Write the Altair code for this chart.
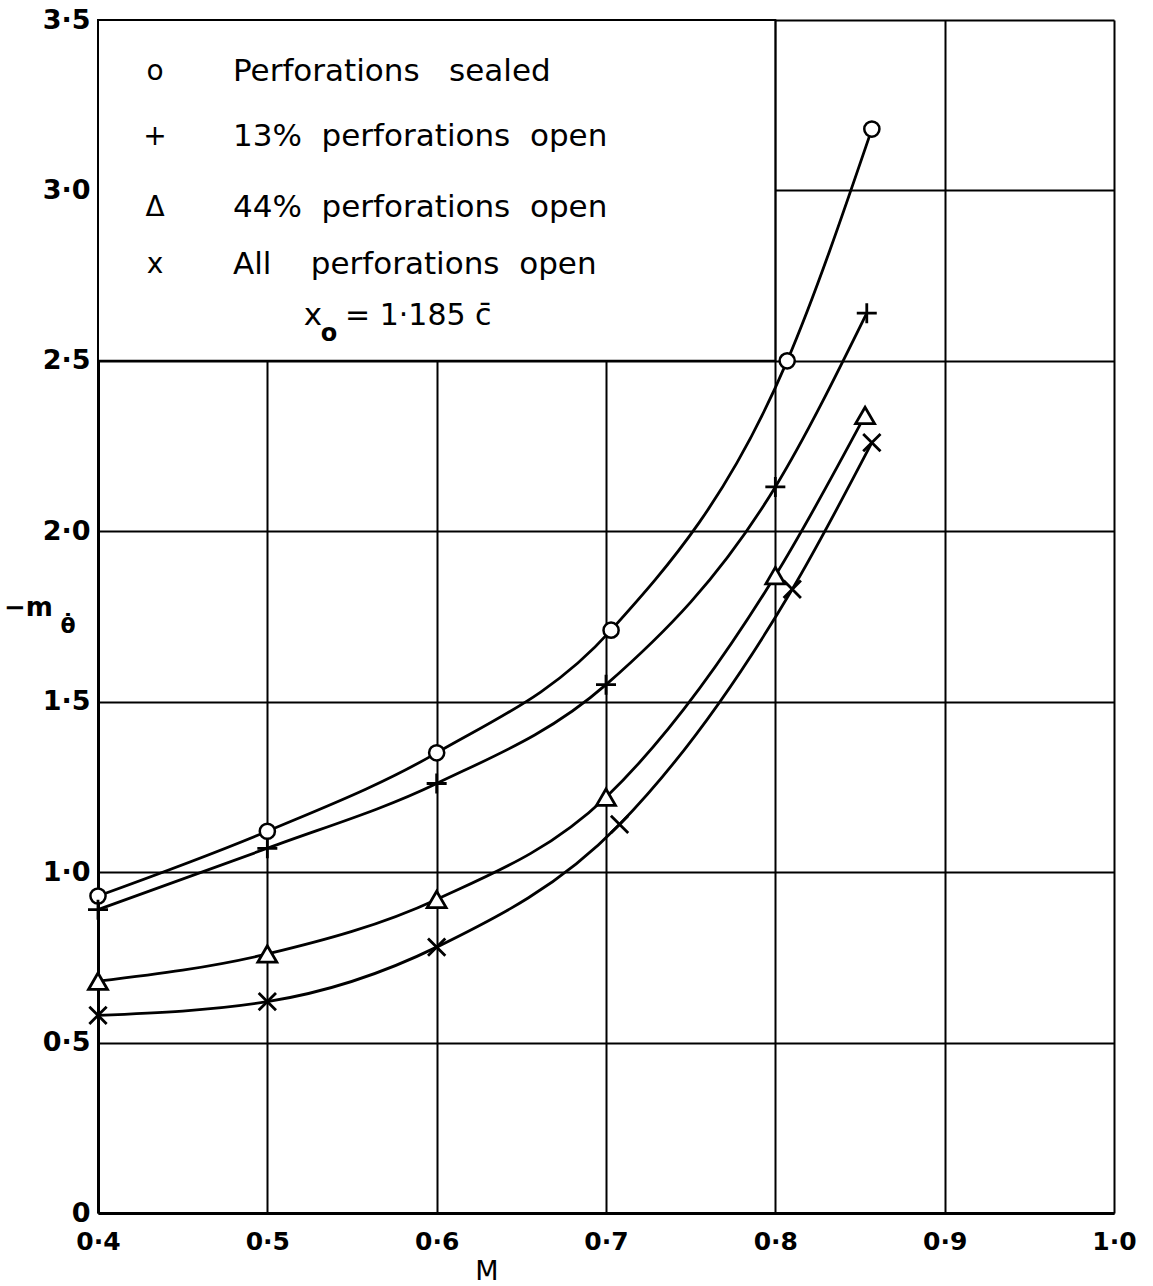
import altair as alt
import pandas as pd

FONT = "DejaVu Sans"

# ---- data ----
series_names = ["Perforations sealed", "13% perforations open",
                "44% perforations open", "All perforations open"]
M_sealed = [0.4, 0.5, 0.6, 0.703, 0.807, 0.857]
v_sealed = [0.93, 1.12, 1.35, 1.71, 2.50, 3.18]
M_13 = [0.4, 0.5, 0.6, 0.7, 0.8, 0.854]
v_13 = [0.89, 1.07, 1.26, 1.55, 2.13, 2.64]
M_44 = [0.4, 0.5, 0.6, 0.7, 0.8, 0.853]
v_44 = [0.68, 0.76, 0.92, 1.22, 1.87, 2.34]
M_all = [0.4, 0.5, 0.6, 0.708, 0.81, 0.857]
v_all = [0.58, 0.62, 0.78, 1.14, 1.83, 2.26]

x_ticks = [0.4, 0.5, 0.6, 0.7, 0.8, 0.9, 1.0]
y_ticks = [0, 0.5, 1.0, 1.5, 2.0, 2.5, 3.0, 3.5]

legend_markers = ["o", "+", "\u0394", "x"]
legend_texts = ["Perforations\u00a0\u00a0\u00a0sealed",
                "13%\u00a0\u00a0perforations\u00a0\u00a0open",
                "44%\u00a0\u00a0perforations\u00a0\u00a0open",
                "All\u00a0\u00a0\u00a0\u00a0perforations\u00a0\u00a0open"]

frames = []
for name, ms, vs in zip(series_names, [M_sealed, M_13, M_44, M_all],
                        [v_sealed, v_13, v_44, v_all]):
    frames.append(pd.DataFrame({"M": ms, "v": vs, "series": name}))
df = pd.concat(frames, ignore_index=True)

xs = alt.Scale(domain=[0.4, 1.0], nice=False, zero=False)
ys = alt.Scale(domain=[0, 3.5], nice=False, zero=False)

x_axis = alt.Axis(values=x_ticks, grid=True, ticks=False, title=None,
                  labelExpr="replace(format(datum.value, '.1f'), '.', '\u00b7')",
                  labelFlush=False, labelOverlap=False, labelPadding=16,
                  labelFont=FONT, labelFontSize=25, labelFontWeight="bold",
                  labelColor="black", domainColor="black", domainWidth=3,
                  gridColor="black", gridWidth=2, gridOpacity=1)
y_axis = alt.Axis(values=y_ticks, grid=True, ticks=False, title=None,
                  labelExpr="datum.value == 0 ? '0' : replace(format(datum.value, '.1f'), '.', '\u00b7')",
                  labelFlush=False, labelOverlap=False, labelPadding=8,
                  labelFont=FONT, labelFontSize=27, labelFontWeight="bold",
                  labelColor="black", domainColor="black", domainWidth=3,
                  gridColor="black", gridWidth=2, gridOpacity=1)

X = alt.X("M:Q", scale=xs, axis=x_axis)
Y = alt.Y("v:Q", scale=ys, axis=y_axis)

base = alt.Chart(df)

lines = base.mark_line(color="black", strokeWidth=2.8, interpolate="monotone").encode(
    x=X, y=Y, detail="series:N")

def pts(name, **kw):
    return base.transform_filter(alt.datum.series == name).mark_point(
        opacity=1, **kw).encode(x=X, y=Y)

circles = pts(series_names[0], shape="circle", filled=True, fill="white",
              stroke="black", strokeWidth=2.5, size=230)
pluses = pts(series_names[1], shape="M-1,0L1,0M0,-1L0,1", filled=False,
             stroke="black", strokeWidth=2.8, size=400)
tris = pts(series_names[2], shape="triangle-up", filled=True, fill="white",
           stroke="black", strokeWidth=2.8, size=360)
crosses = pts(series_names[3], shape="M-1,-1L1,1M1,-1L-1,1", filled=False,
              stroke="black", strokeWidth=2.8, size=300)

# white legend panel covering the grid in the upper-left cell block
box = alt.Chart(pd.DataFrame({"a": [0]})).mark_rect(
    fill="white", stroke="black", strokeWidth=2).encode(
    x=alt.datum(0.4, scale=xs), x2=alt.datum(0.8),
    y=alt.datum(2.5, scale=ys), y2=alt.datum(3.5))


def label(txt, x, y, size, align="left", weight="normal", baseline="middle"):
    return alt.Chart(pd.DataFrame({"t": [txt]})).mark_text(
        align=align, baseline=baseline, font=FONT, fontSize=size,
        fontWeight=weight, color="black").encode(
        text="t:N", x=alt.value(x), y=alt.value(y))


row_y = [52, 117, 188, 245]
legend_layers = []
for mk, tx, ry in zip(legend_markers, legend_texts, row_y):
    legend_layers.append(label(mk, 57, ry, 28, align="center"))
    legend_layers.append(label(tx, 135, ry, 31))
legend_layers.append(label("x", 215, 296, 31, align="center"))
legend_layers.append(label("o", 231, 314, 24, align="center", weight="bold"))
legend_layers.append(label("= 1\u00b7185 c\u0304", 247, 296, 30))

titles = [
    label("\u2212m", -94, 588, 26, weight="bold"),
    label("\u03b8\u0307", -30, 606, 22, align="center", weight="bold"),
    label("M", 389, 1252, 27, align="center"),
]

chart = alt.layer(box, lines, circles, pluses, tris, crosses,
                  *legend_layers, *titles).properties(
    width=1016, height=1193,
    padding={"left": 98, "top": 20, "right": 39, "bottom": 73},
    autosize="none",
).configure_view(stroke="black", strokeWidth=2.5).configure(background="white")

chart.save("out.html", embed_options={"renderer": "svg", "actions": False})
